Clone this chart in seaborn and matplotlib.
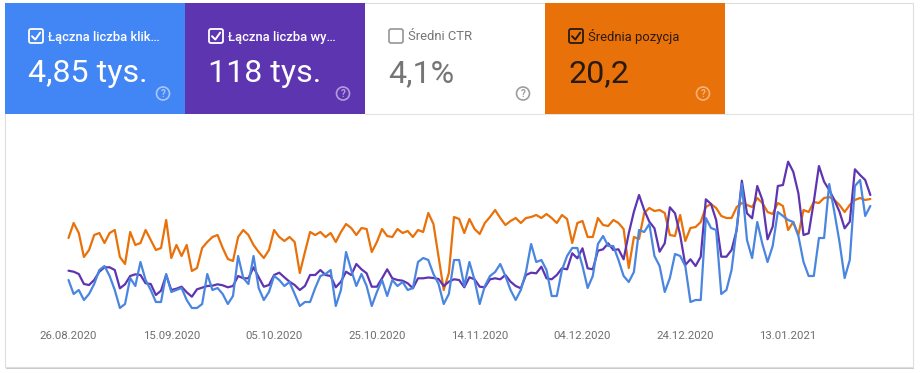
import numpy as np
import pandas as pd
import matplotlib
matplotlib.use("Agg")
import matplotlib.pyplot as plt
import matplotlib.dates as mdates
import seaborn as sns
from matplotlib.patches import FancyBboxPatch, Rectangle, Circle

sns.set_theme(style="white")
plt.rcParams['font.family'] = ['Roboto', 'DejaVu Sans']

# ---------------- data ----------------
start_date = "2020-08-26"

clicks = [20, 13, 15, 10, 13, 18, 25, 27, 22, 15, 6, 8, 21, 17, 29, 20, 15, 9, 9, 23,
          14, 15, 16, 10, 6, 6, 8, 23, 15, 16, 13, 8, 12, 32, 21, 18, 32, 16, 10, 14,
          22, 20, 17, 19, 13, 7, 9, 9, 16, 22, 23, 25, 7, 15, 34, 25, 17, 23, 17, 7,
          14, 20, 12, 20, 17, 19, 15, 16, 29, 31, 30, 23, 18,
          8, 13, 30, 30, 17, 29, 20, 8, 17, 22, 24, 28, 22, 15, 10, 15, 24, 38, 29, 30,
          25, 12, 12, 25, 32, 36, 36, 27, 16, 22, 38, 42, 37,
          37, 30, 22, 19, 24, 45, 44, 48, 32, 27, 14, 21, 33, 32, 27, 9, 10, 10, 51, 46,
          45, 13, 15, 25, 46,
          68, 40, 31, 49, 38, 29, 37, 54, 52, 50, 49, 42, 29, 22, 22, 41, 41, 68, 54, 39,
          21, 30, 67, 70, 52, 57]

impressions = [493, 483, 460, 360, 350, 400, 483, 527, 527, 500, 317, 357, 440, 457, 450, 367, 360, 250, 293, 450,
               300, 313, 333, 277, 233, 307, 323, 340, 343, 357, 347, 327, 340, 440, 417, 417, 527, 427, 333, 350,
               450, 473, 427, 383, 350, 300, 340, 450, 450, 500, 450, 440, 327, 383, 483, 450, 560, 507, 467, 333,
               333, 417, 507, 417, 400, 393, 367, 317, 417, 417, 425, 420, 410,
               340, 383, 407, 400, 327, 427, 407, 333, 327, 407, 417, 407, 450, 383, 340, 317, 450, 473, 467, 533,
               417, 407, 450, 517, 507, 667, 617, 717, 517, 507, 693, 707, 767,
               700, 707, 607, 867, 1083, 1250, 1100, 983, 917, 683, 767, 1127, 1067, 850, 550, 607, 540, 633, 1207, 1160,
               1000, 633, 633, 700, 900,
               1393, 1067, 1017, 1340, 1200, 807, 933, 1340, 1350, 1583, 1483, 1267, 850, 867, 1183, 1540, 1383, 1300, 1200, 1083,
               917, 983, 1507, 1450, 1400, 1250]

position = [18.8, 17.3, 18.3, 20.7, 20.0, 18.5, 18.3, 19.3, 18.3, 18.0, 20.7, 21.4, 18.2, 19.5, 19.3, 18.0, 19.0, 20.0, 19.8, 17.0,
            20.8, 19.5, 20.6, 19.5, 22.1, 21.8, 19.8, 19.2, 18.7, 18.5, 19.8, 20.9, 21.1, 18.7, 18.0, 18.5, 19.5, 20.2, 20.8, 20.0,
            18.0, 18.7, 19.1, 18.7, 19.2, 22.3, 20.2, 18.2, 18.5, 18.2, 18.7, 18.3, 19.2, 18.2, 17.4, 17.8, 18.5, 17.8, 17.9, 20.2,
            19.2, 17.9, 18.6, 18.7, 17.9, 18.3, 18.1, 18.7, 18.0, 18.2, 16.3, 17.4, 20.7,
            24.0, 22.3, 16.7, 16.9, 18.3, 16.9, 17.9, 18.4, 17.3, 16.7, 16.0, 16.8, 17.5, 17.1, 16.8, 17.3, 16.8, 16.7, 16.5, 16.8,
            16.4, 16.8, 17.3, 16.5, 16.9, 19.3, 17.3, 17.1, 18.7, 18.7, 16.8, 17.5, 17.6,
            17.0, 17.3, 17.9, 21.8, 18.7, 18.9, 16.3, 15.8, 16.1, 16.0, 16.3, 18.5, 18.6, 16.5, 19.1, 17.8, 17.7, 17.2, 15.7, 15.4,
            15.8, 16.6, 16.8, 16.8, 15.7,
            15.3, 15.5, 15.7, 14.8, 15.3, 16.2, 16.4, 15.3, 15.6, 18.0, 17.2, 18.5, 16.0, 16.2, 15.2, 15.3, 14.8, 14.7, 15.0, 15.5,
            16.2, 15.5, 15.0, 14.8, 15.0, 14.9]

tick_dates = ["2020-08-26", "2020-09-15", "2020-10-05", "2020-10-25",
              "2020-11-14", "2020-12-04", "2020-12-24", "2021-01-13"]
tick_labels = ["26.08.2020", "15.09.2020", "05.10.2020", "25.10.2020",
               "14.11.2020", "04.12.2020", "24.12.2020", "13.01.2021"]

card_titles = ["Łączna liczba klik…", "Łączna liczba wy…", "Średni CTR", "Średnia pozycja"]
card_values = ["4,85 tys.", "118 tys.", "4,1%", "20,2"]
card_checked = [True, True, False, True]

# ---------------- styles ----------------
C_BLUE = "#4285f4"
C_PURPLE = "#5e35b1"
C_ORANGE = "#e8710a"
LINE_BLUE = "#4a86e0"

dates = pd.date_range(start_date, periods=len(clicks), freq="D")
df = pd.DataFrame({"date": dates, "clicks": clicks,
                   "impressions": impressions, "position": position})

W, H = 923, 373
fig = plt.figure(figsize=(W / 100, H / 100), dpi=100)
fig.patch.set_facecolor("white")

# background / cards layer in pixel coordinates
bg = fig.add_axes([0, 0, 1, 1])
bg.set_xlim(0, W)
bg.set_ylim(H, 0)
bg.axis("off")

# card shadow + frame
bg.add_patch(Rectangle((6, 4.5), 908, 364.5, facecolor="#c9c9c9", edgecolor="none", zorder=0))
bg.add_patch(Rectangle((5, 3), 908, 364, facecolor="white", edgecolor="#dedede", lw=0.8, zorder=1))
bg.plot([365, 913], [113.5, 113.5], color="#e3e3e3", lw=0.8, zorder=2)

card_styles = [
    dict(bg=C_BLUE, text="white", sub="white", box="white", q="#a8c7fa", weight="medium"),
    dict(bg=C_PURPLE, text="white", sub="white", box="white", q="#b39ddb", weight="medium"),
    dict(bg="white", text="#757575", sub="#757575", box="#9e9e9e", q="#9e9e9e", weight="normal"),
    dict(bg=C_ORANGE, text="#2a1a0e", sub="#2a1a0e", box="#2a1a0e", q="#f6b27a", weight="normal"),
]

for i, (title, value, checked, st) in enumerate(zip(card_titles, card_values, card_checked, card_styles)):
    x0 = 5 + 180 * i
    if st["bg"] != "white":
        bg.add_patch(Rectangle((x0, 3), 180, 110.5, facecolor=st["bg"], edgecolor="none", zorder=2))
    cx = x0 + 24
    bg.add_patch(FancyBboxPatch((cx, 29), 14, 14, boxstyle="round,pad=0,rounding_size=2",
                                fill=False, edgecolor=st["box"], lw=1.3, zorder=3))
    if checked:
        bg.plot([cx + 3, cx + 6.3, cx + 11.2], [36.2, 39.5, 32.6], color=st["box"],
                lw=1.4, solid_capstyle="round", solid_joinstyle="round", zorder=4)
    bg.text(cx + 19, 40.5, title, color=st["text"], fontsize=9.4, fontweight=st["weight"],
            va="baseline", ha="left", zorder=4)
    bg.text(cx - 1, 82, value, color=st["sub"], fontsize=23.2, va="baseline", ha="left", zorder=4)
    qx, qy = x0 + 158, 93.5
    bg.add_patch(Circle((qx, qy), 6.5, fill=False, edgecolor=st["q"], lw=1.2, zorder=4))
    bg.text(qx, qy + 0.3, "?", color=st["q"], fontsize=7, ha="center", va="center",
            fontweight="bold", zorder=5)

# ---------------- chart ----------------
left_px, right_px, top_px, bot_px = 40, 900, 150, 320
ax = fig.add_axes([left_px / W, 1 - bot_px / H, (right_px - left_px) / W, (bot_px - top_px) / H])
ax_imp = ax.twinx()
ax_clk = ax.twinx()

sns.lineplot(data=df, x="date", y="position", ax=ax, color=C_ORANGE, lw=1.6, legend=False)
sns.lineplot(data=df, x="date", y="impressions", ax=ax_imp, color=C_PURPLE, lw=1.6, legend=False)
sns.lineplot(data=df, x="date", y="clicks", ax=ax_clk, color=LINE_BLUE, lw=1.6, legend=False)

ax.set_ylim(27, 10)
ax_imp.set_ylim(0, 1700)
ax_clk.set_ylim(0, 85)

px_per_day = 5.14
x0 = mdates.date2num(pd.Timestamp(start_date))
ax.set_xlim(x0 - (68.5 - left_px) / px_per_day, x0 + (right_px - 68.5) / px_per_day)

for a in (ax, ax_imp, ax_clk):
    a.set_facecolor("none")
    for s in a.spines.values():
        s.set_visible(False)
    a.set_ylabel("")
    a.set_xlabel("")
    a.set_yticks([])
    a.grid(False)

ax.set_xticks(mdates.date2num(pd.to_datetime(tick_dates)))
ax.set_xticklabels(tick_labels)
ax.tick_params(axis="x", length=0, pad=8, labelsize=8.2, labelcolor="#6f6f6f")
for a in (ax_imp, ax_clk):
    a.tick_params(axis="x", length=0, labelbottom=False)

fig.savefig("out.png", dpi=100, facecolor="white")
